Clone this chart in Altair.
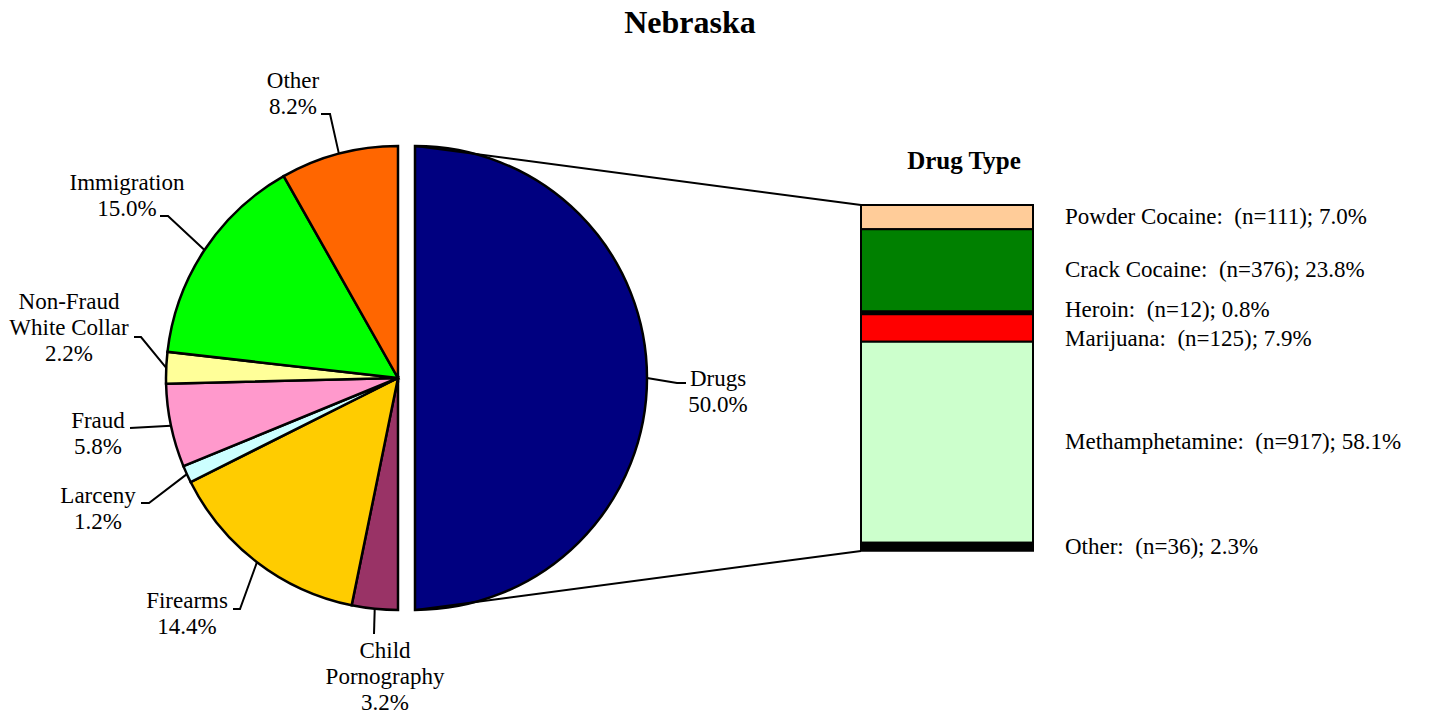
import math
import altair as alt
import pandas as pd

# ---------------- data ----------------
categories = ["Drugs", "Child Pornography", "Firearms", "Larceny", "Fraud",
              "Non-Fraud White Collar", "Immigration", "Other"]
percents = [50.0, 3.2, 14.4, 1.2, 5.8, 2.2, 15.0, 8.2]
slice_colors = ["#000080", "#993366", "#FFCC00", "#CCFFFF", "#FF99CC",
                "#FFFF99", "#00FF00", "#FF6600"]
label_texts = ["Drugs\n50.0%", "Child\nPornography\n3.2%", "Firearms\n14.4%",
               "Larceny\n1.2%", "Fraud\n5.8%", "Non-Fraud\nWhite Collar\n2.2%",
               "Immigration\n15.0%", "Other\n8.2%"]

drug_types = ["Powder Cocaine", "Crack Cocaine", "Heroin", "Marijuana",
              "Methamphetamine", "Other"]
drug_counts = [111, 376, 12, 125, 917, 36]
drug_percents = [7.0, 23.8, 0.8, 7.9, 58.1, 2.3]
drug_colors = ["#FFCC99", "#008000", "#000000", "#FF0000", "#CCFFCC", "#000000"]

# ---------------- layout (page px minus 8px margin) ----------------
OFF = 8
W, H = 1413, 709
CX, CY, R = 398 - OFF, 378 - OFF, 232
EXPLODE = 17
BAR_X0, BAR_X1 = 861 - OFF, 1033 - OFF
BAR_TOP, BAR_BOTTOM = 205 - OFF, 551 - OFF
BAR_LABEL_X = 1065 - OFF
FONT = "Liberation Serif"
LABEL_SIZE = 23

# first-line centre of each label and leader elbow points (page px)
label_layout = {
    "Drugs": (718, 379, [(686, 383), (677, 383)]),
    "Child Pornography": (385, 651, [(374, 634)]),
    "Firearms": (187, 601, [(233, 609), (240, 609)]),
    "Larceny": (98, 496, [(141, 503), (149, 503)]),
    "Fraud": (98, 421, [(130, 428)]),
    "Non-Fraud White Collar": (69, 302, [(134, 337), (141, 337)]),
    "Immigration": (127, 183, [(160, 216), (168, 216)]),
    "Other": (293, 81, [(321, 114), (330, 114)]),
}
bar_label_shift = [0, 0, -0.9, 3.2, 0, 0]  # label nudges, in percent units

# ---------------- tables ----------------
t0s, t1s = [], []
acc = 0.0
for p in percents:
    t0s.append(acc)
    acc += p
    t1s.append(acc)
pie = pd.DataFrame({"cat": categories, "pct": percents, "t0": t0s, "t1": t1s,
                    "color": slice_colors})

label_rows, line_rows = [], []
for cat, txt, a, b in zip(categories, label_texts, t0s, t1s):
    tx, ty, elbows = label_layout[cat]
    label_rows.append({"cat": cat, "txt": txt, "px": tx - OFF, "py": ty - OFF})
    theta = (a + b) / 2 / 100 * 2 * math.pi
    cx = CX + (EXPLODE if cat == "Drugs" else 0)
    ax = cx + R * math.sin(theta)
    ay = CY - R * math.cos(theta)
    pts = [(ex - OFF, ey - OFF) for ex, ey in elbows] + [(ax, ay)]
    for i, (x, y) in enumerate(pts):
        line_rows.append({"cat": cat, "i": i, "px": x, "py": y})
# connectors from exploded Drugs slice to the bar
line_rows += [
    {"cat": "conn_top", "i": 0, "px": CX + EXPLODE, "py": CY - R},
    {"cat": "conn_top", "i": 1, "px": BAR_X0, "py": BAR_TOP},
    {"cat": "conn_bot", "i": 0, "px": CX + EXPLODE, "py": CY + R},
    {"cat": "conn_bot", "i": 1, "px": BAR_X0, "py": BAR_BOTTOM},
]
labels = pd.DataFrame(label_rows)
lines = pd.DataFrame(line_rows)

s0, s1 = [], []
acc = 0.0
for p in drug_percents:
    s0.append(acc)
    acc += p
    s1.append(acc)
bar = pd.DataFrame({
    "drug": drug_types, "n": drug_counts, "pct": drug_percents,
    "y0": s0, "y1": s1, "color": drug_colors,
    "mid": [(a + b) / 2 + s for a, b, s in zip(s0, s1, bar_label_shift)],
    "txt": [f"{d}:\u00a0 (n={n}); {p:.1f}%" for d, n, p in
            zip(drug_types, drug_counts, drug_percents)],
})

theta_scale = alt.Scale(domain=[0, 100], range=[0, 2 * math.pi])
bar_y_scale = alt.Scale(domain=[0, 100], range=[BAR_TOP, BAR_BOTTOM])

# ---------------- layers ----------------
left_pie = alt.Chart(pie[pie.cat != "Drugs"]).mark_arc(
    radius=R, stroke="black", strokeWidth=2.5
).encode(
    theta=alt.Theta("t0:Q", scale=theta_scale, stack=None),
    theta2="t1:Q",
    fill=alt.Fill("color:N", scale=None),
    x=alt.value(CX), y=alt.value(CY),
)

drug_slice = alt.Chart(pie[pie.cat == "Drugs"]).mark_arc(
    radius=R, stroke="black", strokeWidth=2.5
).encode(
    theta=alt.Theta("t0:Q", scale=theta_scale, stack=None),
    theta2="t1:Q",
    fill=alt.Fill("color:N", scale=None),
    x=alt.value(CX + EXPLODE), y=alt.value(CY),
)

leaders = alt.Chart(lines).mark_line(color="black", strokeWidth=2).encode(
    x=alt.X("px:Q", scale=None, axis=None),
    y=alt.Y("py:Q", scale=None, axis=None),
    detail="cat:N",
    order="i:Q",
)

pie_labels = alt.Chart(labels).mark_text(
    font=FONT, fontSize=LABEL_SIZE, lineBreak="\n", lineHeight=26,
    align="center", baseline="middle", color="black"
).encode(
    x=alt.X("px:Q", scale=None, axis=None),
    y=alt.Y("py:Q", scale=None, axis=None),
    text="txt:N",
)

bars = alt.Chart(bar).mark_bar(stroke="black", strokeWidth=2).encode(
    y=alt.Y("y0:Q", scale=bar_y_scale, axis=None),
    y2="y1:Q",
    x=alt.value(BAR_X0), x2=alt.value(BAR_X1),
    fill=alt.Fill("color:N", scale=None),
)

bar_labels = alt.Chart(bar).mark_text(
    font=FONT, fontSize=LABEL_SIZE, align="left", baseline="middle", color="black"
).encode(
    y=alt.Y("mid:Q", scale=bar_y_scale, axis=None),
    x=alt.value(BAR_LABEL_X),
    text="txt:N",
)

titles = alt.Chart(pd.DataFrame({
    "txt": ["Nebraska", "Drug Type"],
    "px": [690 - OFF, 964 - OFF],
    "py": [23 - OFF, 161 - OFF],
    "size": [32, 25],
})).mark_text(font=FONT, fontWeight="bold", align="center",
              baseline="middle", color="black").encode(
    x=alt.X("px:Q", scale=None, axis=None),
    y=alt.Y("py:Q", scale=None, axis=None),
    text="txt:N",
    size=alt.Size("size:Q", scale=None, legend=None),
)

chart = alt.layer(
    left_pie, drug_slice, leaders, pie_labels, bars, bar_labels, titles
).resolve_scale(
    x="independent", y="independent", theta="independent", fill="independent"
).properties(
    width=W, height=H, autosize=alt.AutoSizeParams(type="none"), padding=0,
    background="white"
).configure_view(stroke=None)

chart.save("out.html", embed_options={"renderer": "svg", "actions": False})
